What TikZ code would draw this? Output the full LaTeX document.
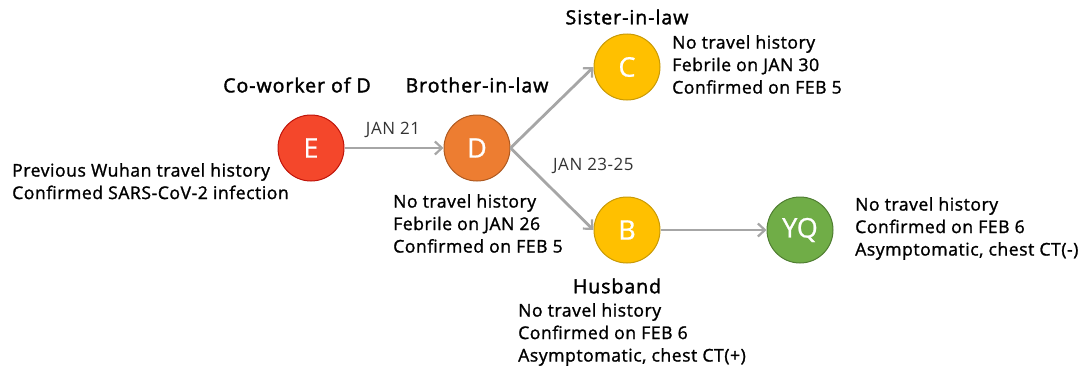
\documentclass[tikz,border=0pt]{standalone}
\usepackage{fontspec}
\setmainfont{Open Sans}[FakeBold=1.3, LetterSpace=3]
\newfontfamily\rolefont{Open Sans}[FakeBold=1.8, LetterSpace=5]
\newfontfamily\datefont{Open Sans}[LetterSpace=3]
\newfontfamily\letterfont{Open Sans}[FakeBold=0.8]
\usetikzlibrary{arrows.meta}
\definecolor{cE}{HTML}{F4472B}
\definecolor{cEb}{HTML}{C0140A}
\definecolor{cD}{HTML}{ED7D31}
\definecolor{cDb}{HTML}{AE5A21}
\definecolor{cY}{HTML}{FFC000}
\definecolor{cYb}{HTML}{C99A06}
\definecolor{cG}{HTML}{70AD47}
\definecolor{cGb}{HTML}{507E32}
\definecolor{arr}{HTML}{A6A6A6}
\tikzset{
  person/.style={circle, minimum size=66pt, inner sep=0pt, line width=1pt, text=white, font=\letterfont\fontsize{27}{30}\selectfont},
  role/.style={font=\rolefont\fontsize{19.5}{22}\selectfont, inner sep=0pt},
  info/.style={font=\fontsize{17.6}{22.5}\selectfont, align=left, inner sep=0pt, anchor=north west},
  date/.style={font=\datefont\fontsize{17}{18}\selectfont, inner sep=0pt, text=black!80},
  link/.style={draw=arr, line width=2.8pt, -{Straight Barb[length=7pt,width=13pt,line width=2.2pt]}}
}
\begin{document}
\begin{tikzpicture}[x=1pt,y=-1pt]
\useasboundingbox (0,0) rectangle (1084,372);
\node[person, fill=cE, draw=cEb] (E) at (311,148) {E};
\node[person, fill=cD, draw=cDb] (D) at (477,148) {D};
\node[person, fill=cY, draw=cYb] (C) at (627,67) {C};
\node[person, fill=cY, draw=cYb] (B) at (627,230) {B};
\node[person, fill=cG, draw=cGb] (YQ) at (800,230) {YQ};

\node[role] (rE) at (297,85) {Co-worker of D};
\node[role] (rD) at (477,85) {Brother-in-law};
\node[role] (rC) at (627,17) {Sister-in-law};
\node[role] (rB) at (617,286) {Husband};

\node[info] (iE) at (12,163) {Previous Wuhan travel history\\Confirmed SARS-CoV-2 infection};
\node[info] (iD) at (393,194) {No travel history\\Febrile on JAN 26\\Confirmed on FEB 5};
\node[info] (iC) at (672,35) {No travel history\\Febrile on JAN 30\\Confirmed on FEB 5};
\node[info] (iB) at (518,303) {No travel history\\Confirmed on FEB 6\\Asymptomatic, chest CT(+)};
\node[info] (iY) at (855,197) {No travel history\\Confirmed on FEB 6\\Asymptomatic, chest CT(-)};

\draw[link] (E.east) -- (D.west);
\draw[link] (D.east) -- (C.west);
\draw[link] (D.east) -- (B.west);
\draw[link] (B.east) -- (YQ.west);

\node[date] (d1) at (393,130) {JAN 21};
\node[date, anchor=west] (d2) at (553,166) {JAN 23-25};
\end{tikzpicture}
\end{document}
